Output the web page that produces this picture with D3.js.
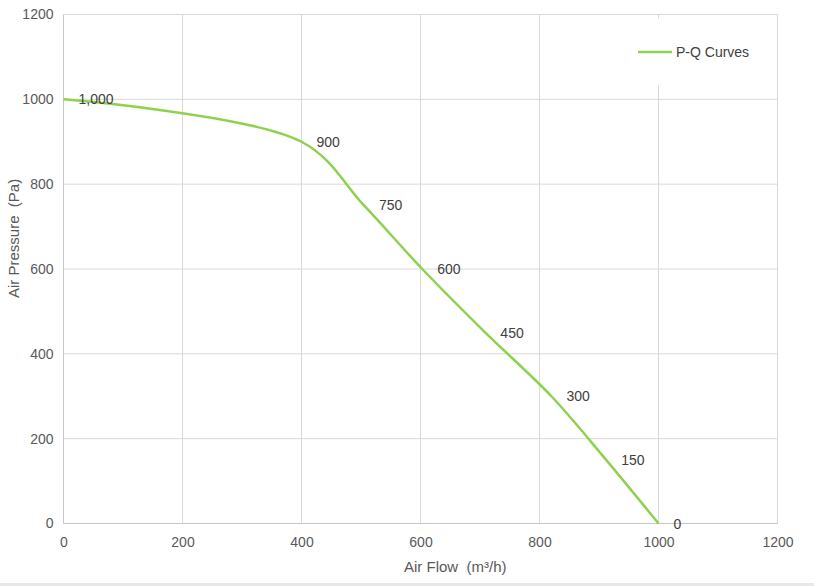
<!DOCTYPE html>
<html><head><meta charset="utf-8">
<script src="https://cdn.jsdelivr.net/npm/d3@7"></script>
<style>
body{margin:0;background:#fff;}
text{font-family:"Liberation Sans",Arial,Helvetica,sans-serif;white-space:pre;}
</style></head>
<body><svg id="c" width="814" height="586"></svg>
<script>
const flow = [0, 400, 505, 603, 709, 820, 912, 1000];
const pressure = [1000, 900, 750, 600, 450, 300, 150, 0];
const seriesName = "P-Q Curves";
const xTicks = [0, 200, 400, 600, 800, 1000, 1200];
const yTicks = [0, 200, 400, 600, 800, 1000, 1200];
const xTitle = "Air Flow  (m³/h)";
const yTitle = "Air Pressure  (Pa)";

const data = flow.map((f,i)=>({x:f,y:pressure[i]}));
const svg = d3.select("#c");
const L=63.5, R=777.5, T=14.5, B=523.5;
const x = d3.scaleLinear().domain([0,1200]).range([L,R]);
const y = d3.scaleLinear().domain([0,1200]).range([B,T]);
const grid="#d9d9d9", tickCol="#595959";

// grid
const g = svg.append("g");
g.selectAll("line.v").data(xTicks).join("line")
  .attr("x1",d=>x(d)).attr("x2",d=>x(d)).attr("y1",T).attr("y2",B)
  .attr("stroke",d=>d===0?"#c6c6c6":grid).attr("stroke-width",1);
g.selectAll("line.h").data(yTicks).join("line")
  .attr("y1",d=>y(d)).attr("y2",d=>y(d)).attr("x1",L).attr("x2",R)
  .attr("stroke",d=>d===0?"#c6c6c6":grid).attr("stroke-width",1);

// axes (labels only, via d3 axes)
const xa = svg.append("g").attr("transform",`translate(0,${B})`)
  .call(d3.axisBottom(x).tickValues(xTicks).tickSize(0).tickPadding(14).tickFormat(d3.format("d")));
const ya = svg.append("g").attr("transform",`translate(${L},0)`)
  .call(d3.axisLeft(y).tickValues(yTicks).tickSize(0).tickPadding(10).tickFormat(d3.format("d")));
[xa,ya].forEach(a=>{a.select(".domain").remove();
  a.selectAll("text").attr("fill",tickCol).style("font-size","14px")
   .style("font-family",'"Liberation Sans",Arial,sans-serif');});

// legend box
svg.append("rect").attr("x",590).attr("y",18).attr("width",180).attr("height",67).attr("fill","#fff");
svg.append("line").attr("x1",638).attr("x2",672).attr("y1",52).attr("y2",52)
  .attr("stroke","#8fd14f").attr("stroke-width",2.5);
svg.append("text").attr("x",676).attr("y",57).text(seriesName)
  .attr("fill","#404040").style("font-size","14px");

// curve
const line = d3.line().x(d=>x(d.x)).y(d=>y(d.y)).curve(d3.curveCatmullRom.alpha(0.5));
svg.append("path").datum(data).attr("d",line).attr("fill","none")
  .attr("stroke","#8fd14f").attr("stroke-width",2.5).attr("stroke-linejoin","round");

// data labels
svg.selectAll("text.dl").data(data).join("text").attr("class","dl")
  .attr("x",d=>x(d.x)+15).attr("y",d=>y(d.y)+5)
  .text(d=>d3.format(",")(d.y)).attr("fill","#404040").style("font-size","14px");

// axis titles
svg.append("text").attr("x",404).attr("y",572).text(xTitle)
  .attr("fill",tickCol).style("font-size","15px");
svg.append("text").attr("transform","translate(19,298) rotate(-90)").text(yTitle)
  .attr("fill",tickCol).style("font-size","15px");

// bottom separator
svg.append("rect").attr("x",0).attr("y",583).attr("width",814).attr("height",3).attr("fill","#e8e8e8");
</script></body></html>
